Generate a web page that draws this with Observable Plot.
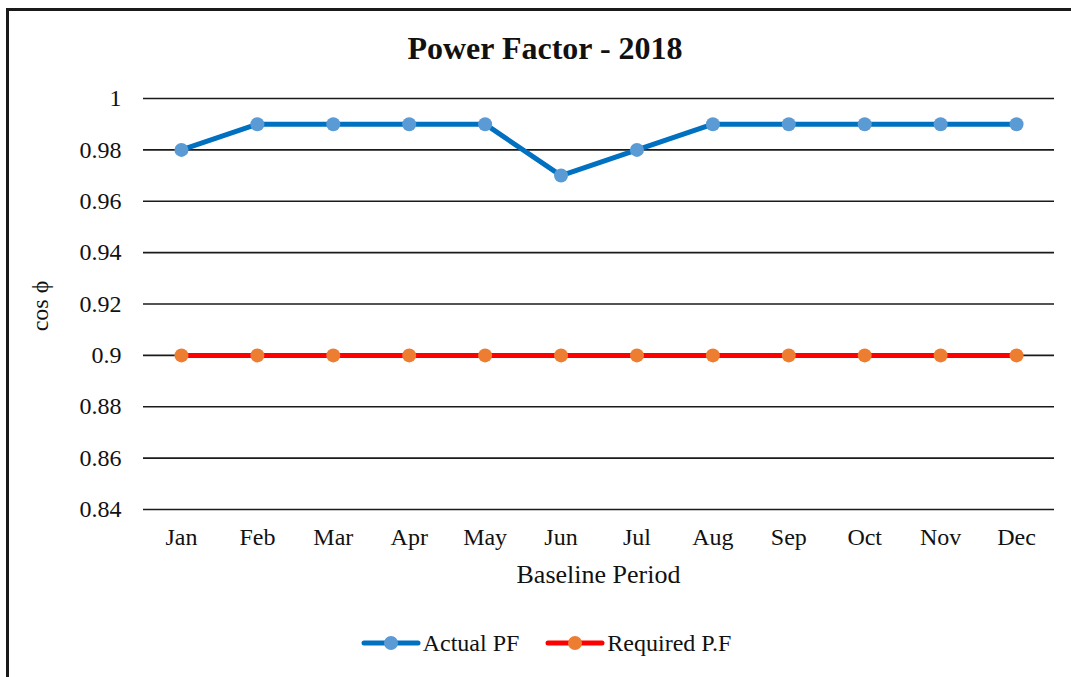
<!DOCTYPE html>
<html>
<head>
<meta charset="utf-8">
<script src="https://cdn.jsdelivr.net/npm/d3@7"></script>
<script src="https://cdn.jsdelivr.net/npm/@observablehq/plot@0.6"></script>
<style>
  html, body { margin: 0; padding: 0; background: #fff; overflow: hidden; }
  #root { position: relative; width: 1071px; height: 677px; overflow: hidden; font-family: "Liberation Serif", "Times New Roman", serif; color: #111; }
  #frame { position: absolute; left: 6px; top: 8px; width: 2000px; height: 2000px; border-left: 3px solid #1a1a1a; border-top: 3px solid #1a1a1a; }
  #title { position: absolute; left: 0; width: 1090px; top: 28px; text-align: center; font-size: 32px; font-weight: bold; line-height: 40px; }
  #chart { position: absolute; left: 0; top: 60px; }
  #xlabel { position: absolute; left: 143px; width: 911px; top: 561px; text-align: center; font-size: 26px; line-height: 28px; }
  #ylabel { position: absolute; left: 40px; top: 306px; font-size: 24px; line-height: 28px; transform: translate(-50%, -50%) rotate(-90deg); white-space: nowrap; }
  #legend { position: absolute; left: 0; width: 1092px; top: 628px; display: flex; justify-content: center; align-items: center; font-size: 24px; line-height: 30px; }
  .item { display: flex; align-items: center; margin: 0 13px; }
  .item svg { margin-right: 2px; }
</style>
</head>
<body>
<div id="root">
  <div id="frame"></div>
  <div id="title"></div>
  <div id="chart"></div>
  <div id="xlabel"></div>
  <div id="ylabel"></div>
  <div id="legend"></div>
</div>
<script>
// ---- data ----
const months = ["Jan","Feb","Mar","Apr","May","Jun","Jul","Aug","Sep","Oct","Nov","Dec"];
const actualPF = [0.98,0.99,0.99,0.99,0.99,0.97,0.98,0.99,0.99,0.99,0.99,0.99];
const requiredPF = [0.90,0.90,0.90,0.90,0.90,0.90,0.90,0.90,0.90,0.90,0.90,0.90];
const yTicks = [0.84,0.86,0.88,0.90,0.92,0.94,0.96,0.98,1.00];
const seriesNames = ["Actual PF", "Required P.F"];
const titleText = "Power Factor - 2018";
const xTitle = "Baseline Period";
const yTitle = "cos \u03D5";

const lineColors = ["#0070C0", "#FF0000"];
const markerColors = ["#5B9BD5", "#ED7D31"];

const actualData = months.map((m, i) => ({month: m, value: actualPF[i]}));
const requiredData = months.map((m, i) => ({month: m, value: requiredPF[i]}));

document.getElementById("title").textContent = titleText;
document.getElementById("xlabel").textContent = xTitle;
document.getElementById("ylabel").textContent = yTitle;

const chart = Plot.plot({
  width: 1071,
  height: 550,
  marginTop: 38,
  marginBottom: 101,
  marginLeft: 143,
  marginRight: 17,
  style: { fontFamily: "Liberation Serif, Times New Roman, serif", fontSize: "24px", color: "#111", background: "transparent" },
  x: { type: "point", domain: months, padding: 0.5, round: false, label: null },
  y: { domain: [0.84, 1], label: null },
  marks: [
    Plot.ruleY(yTicks, { stroke: "#1a1a1a", strokeWidth: 1.6 }),
    Plot.axisX({ tickSize: 0, tickPadding: 18, label: null, fontSize: 24 }),
    Plot.axisY({ ticks: yTicks, tickSize: 0, tickPadding: 22, label: null, fontSize: 24, tickFormat: d => String(+d.toFixed(2)) }),
    Plot.line(requiredData, { x: "month", y: "value", stroke: lineColors[1], strokeWidth: 5 }),
    Plot.dot(requiredData, { x: "month", y: "value", r: 7, fill: markerColors[1], stroke: "none" }),
    Plot.line(actualData, { x: "month", y: "value", stroke: lineColors[0], strokeWidth: 5 }),
    Plot.dot(actualData, { x: "month", y: "value", r: 7, fill: markerColors[0], stroke: "none" })
  ]
});
document.getElementById("chart").appendChild(chart);

// legend
const legend = d3.select("#legend");
seriesNames.forEach((name, i) => {
  const item = legend.append("div").attr("class", "item");
  const sw = item.append("svg").attr("width", 60).attr("height", 20);
  sw.append("line").attr("x1", 3).attr("x2", 57).attr("y1", 10).attr("y2", 10)
    .attr("stroke", lineColors[i]).attr("stroke-width", 5).attr("stroke-linecap", "round");
  sw.append("circle").attr("cx", 30).attr("cy", 10).attr("r", 7).attr("fill", markerColors[i]);
  item.append("span").text(name);
});
</script>
</body>
</html>
